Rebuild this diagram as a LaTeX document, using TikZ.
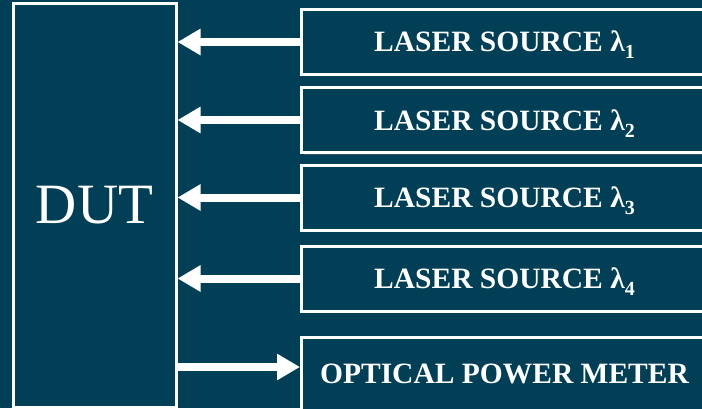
\documentclass[tikz,border=0pt]{standalone}
\usepackage{fontspec}
\setmainfont{Liberation Serif}
\usepackage{tikz}
\usetikzlibrary{shadows, positioning, arrows.meta}
\definecolor{bgteal}{RGB}{1,63,87}
\newcommand{\lamsub}[1]{λ\raisebox{-7pt}{\fontsize{20}{20}\selectfont #1}}

\begin{document}
\begin{tikzpicture}[
        x=1pt, y=1pt,
        every node/.style={text=white},
        box/.style={rectangle, draw=white, line width=3pt, fill=bgteal, drop shadow={opacity=0.35, shadow xshift=2pt, shadow yshift=-2pt}},
        source/.style={box, minimum width=406pt, minimum height=65pt, text height=20pt, text depth=0pt, font=\fontsize{29.5}{32}\selectfont\bfseries},
        link/.style={white, line width=8pt, -{Triangle[length=23pt, width=25pt]}}
    ]
%
    % Background
    \fill[bgteal] (0,0) rectangle (702,408);
    \useasboundingbox (0,0) rectangle (702,408);
%
    % Device under test
    \node[box, minimum width=163pt, minimum height=403pt, font=\fontsize{57}{60}\selectfont] (dut) at (94.5,202.5) {DUT};
%
    % Sources and meter
    \node[source, anchor=west] (src1) at (300,366) {LASER SOURCE \lamsub{1}};
    \node[source, anchor=west] (src2) at (300,288) {LASER SOURCE \lamsub{2}};
    \node[source, anchor=west] (src3) at (300,210.5) {LASER SOURCE \lamsub{3}};
    \node[source, anchor=west] (src4) at (300,129.5) {LASER SOURCE \lamsub{4}};
    \node[source, minimum height=73pt, anchor=west] (opm) at (300,34.5) {OPTICAL POWER METER};
%
    % Connections
    \foreach \s in {src1,src2,src3,src4}
        \draw[link] (\s.west) -- (dut.east |- \s.west);
    \coordinate (out) at ([yshift=6.5pt]opm.west);
    \draw[link] (dut.east |- out) -- (out);
%
\end{tikzpicture}
\end{document}
